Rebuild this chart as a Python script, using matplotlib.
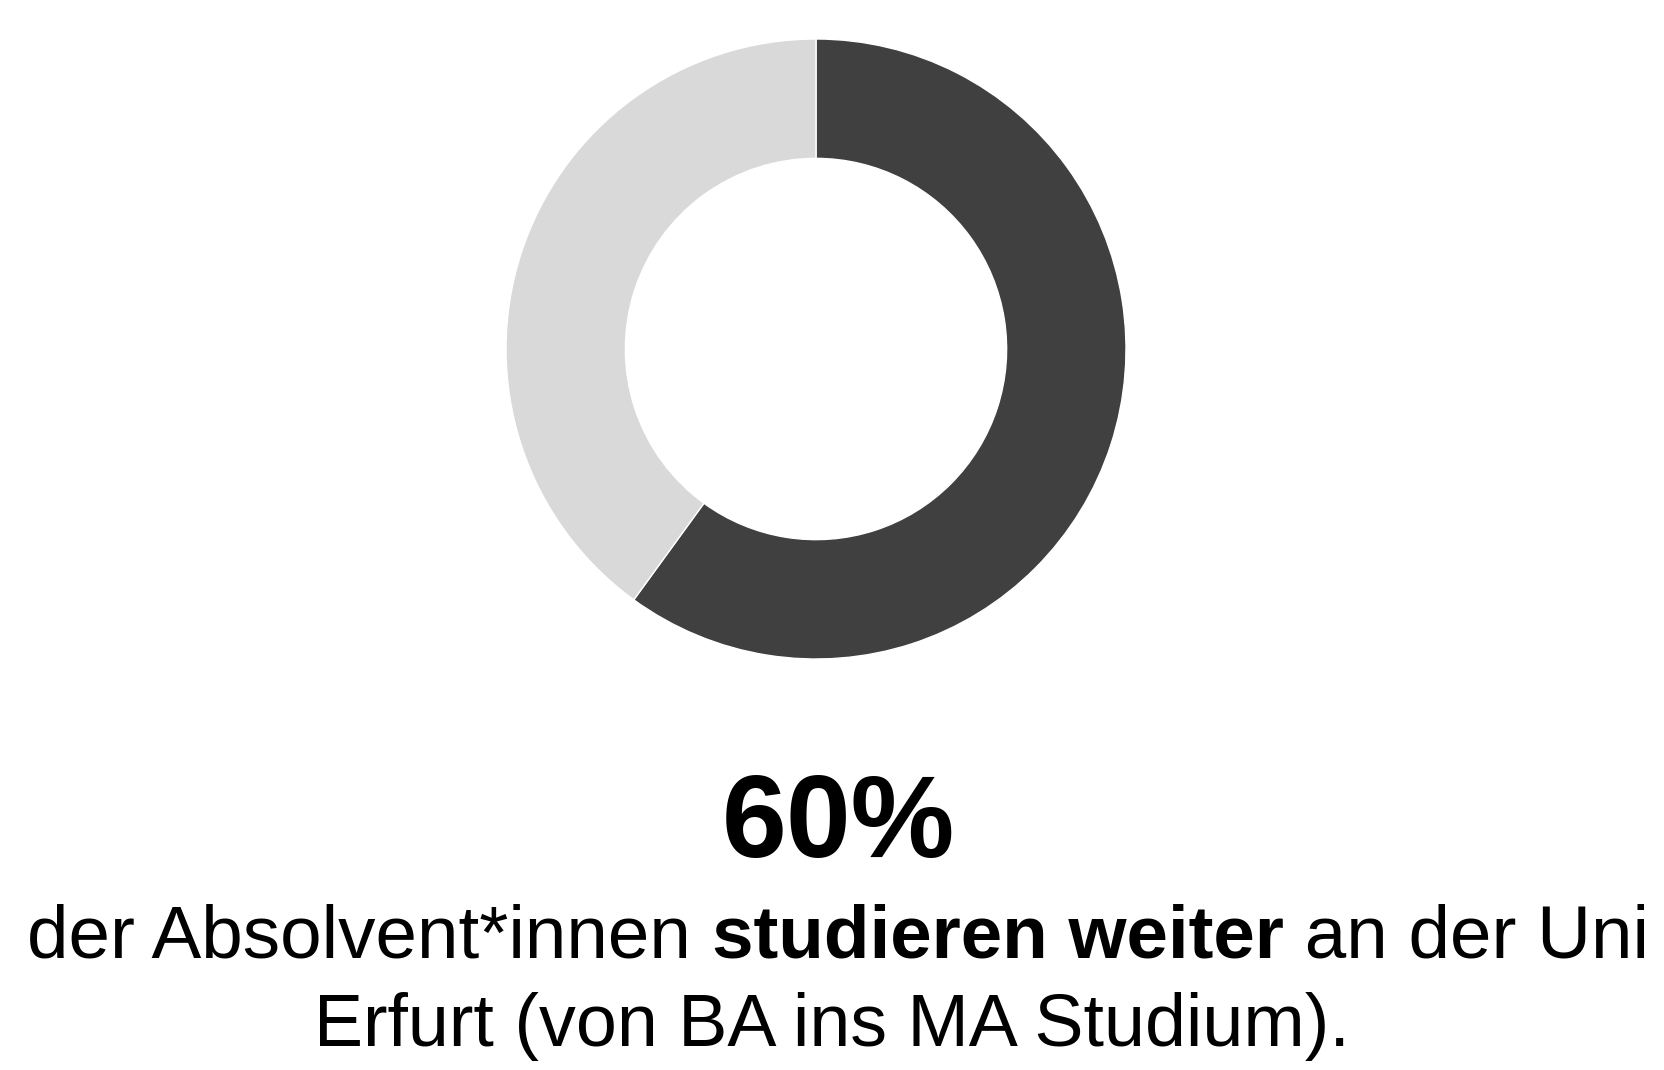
import matplotlib
matplotlib.use("Agg")
import matplotlib.pyplot as plt

# daten
anteile = [60, 40]
farben = ['#404040', '#d9d9d9']
wert_text = '60%'
zeile1 = [('der Absolvent*innen ', 'normal'), ('studieren weiter', 'bold'), (' an der Uni', 'normal')]
zeile2 = 'Erfurt (von BA ins MA Studium).'

W, H = 1664, 1070
fig = plt.figure(figsize=(W / 100, H / 100), dpi=100)
plt.rcParams['font.family'] = ['Liberation Sans', 'DejaVu Sans']

# donut
cx, cy, r = 816, 349, 310
ax = fig.add_axes([(cx - r) / W, (H - cy - r) / H, 2 * r / W, 2 * r / H])
ax.pie(anteile, colors=farben, startangle=90, counterclock=False, radius=1,
       wedgeprops=dict(width=0.385, edgecolor='white', linewidth=1))
ax.set_xlim(-1, 1)
ax.set_ylim(-1, 1)
ax.set_aspect('equal')
ax.axis('off')

# grosse zahl
fig.text(838 / W, 1 - 857 / H, wert_text, ha='center', va='baseline', fontsize=84,
         fontweight='bold')

# erste zeile, gemischt normal/fett
fs = 53.7
renderer = fig.canvas.get_renderer()
teile = []
for txt, w in zeile1:
    t = fig.text(0, 1 - 957 / H, txt, ha='left', va='baseline', fontsize=fs, fontweight=w)
    teile.append(t)
breiten = [t.get_window_extent(renderer).width for t in teile]
gesamt = sum(breiten)
x = 838 - gesamt / 2
for t, b in zip(teile, breiten):
    t.set_x(x / W)
    x += b

fig.text(0.5, 1 - 1046 / H, zeile2, ha='center', va='baseline', fontsize=53)

fig.savefig('out.png', dpi=100)
